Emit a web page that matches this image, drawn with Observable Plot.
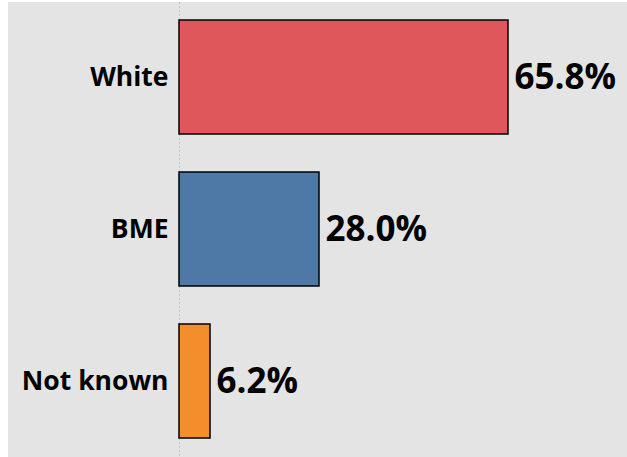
<!DOCTYPE html>
<html>
<head>
<meta charset="utf-8">
<script src="https://cdn.jsdelivr.net/npm/d3@7"></script>
<script src="https://cdn.jsdelivr.net/npm/@observablehq/plot@0.6"></script>
<style>
  html, body { margin: 0; padding: 0; background: #ffffff; }
  #chart { position: absolute; left: 8px; top: 2px; }
</style>
</head>
<body>
<div id="chart"></div>
<script>
const categories = ["White", "BME", "Not known"];
const values = [65.8, 28.0, 6.2];
const valueLabels = ["65.8%", "28.0%", "6.2%"];
const barColors = ["#e0575b", "#4e79a7", "#f28e2b"];

const data = categories.map((c, i) => ({
  cat: c, value: values[i], label: valueLabels[i], color: barColors[i]
}));

const chart = Plot.plot({
  width: 619,
  height: 455,
  marginLeft: 171,
  marginRight: 0,
  marginTop: 0,
  marginBottom: 0,
  style: { background: "#e4e4e4", fontFamily: "'Open Sans', sans-serif", color: "#000", overflow: "visible" },
  x: { domain: [0, 89.6], axis: null },
  y: { domain: categories, range: [-1, 455], paddingInner: 0.25, paddingOuter: 0.125, axis: null },
  color: { type: "identity" },
  marks: [
    Plot.ruleX([0], { stroke: "#c4c4c4", strokeDasharray: "2,2", strokeWidth: 1 }),
    Plot.barX(data, { x: "value", y: "cat", fill: "color", stroke: "#000", strokeWidth: 1.5 }),
    Plot.text(data, { x: "value", y: "cat", text: "label", dx: 6, textAnchor: "start", fontSize: 35, fontWeight: "bold", fill: "#000" }),
    Plot.axisY({ tickSize: 0, tickPadding: 11, fontSize: 26.5, fontWeight: "bold", label: null, fill: "#000" })
  ]
});
document.getElementById("chart").append(chart);
</script>
</body>
</html>
